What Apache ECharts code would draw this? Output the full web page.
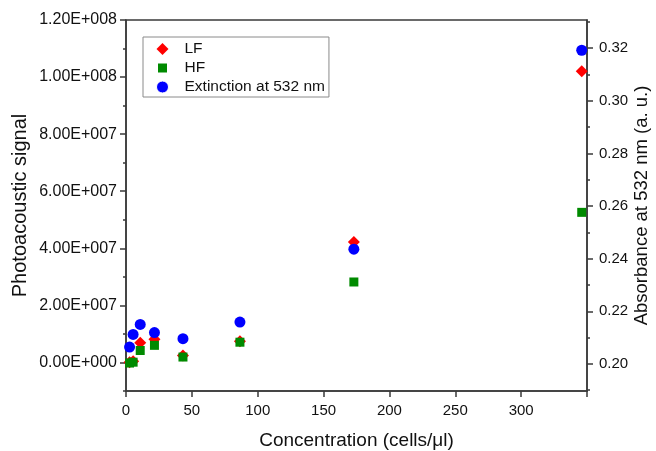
<!DOCTYPE html>
<html>
<head>
<meta charset="utf-8">
<script src="https://cdn.jsdelivr.net/npm/echarts@6/dist/echarts.min.js"></script>
<style>html,body{margin:0;padding:0;background:#fff;}#c{width:656px;height:451px;}</style>
</head>
<body>
<div id="c"></div>
<script>
// ---- data ----
var concentration = [2.7, 5.4, 10.8, 21.6, 43.25, 86.5, 173, 346];
var lfSignal = [0.1e6, 0.4e6, 6.9e6, 8.1e6, 2.4e6, 7.4e6, 4.22e7, 1.02e8];
var hfSignal = [-0.2e6, 0.1e6, 4.2e6, 6.0e6, 1.9e6, 7.1e6, 2.82e7, 5.26e7];
var extinction = [0.2064, 0.2112, 0.2150, 0.2119, 0.2096, 0.2159, 0.2436, 0.3192];
var seriesNames = ['LF', 'HF', 'Extinction at 532 nm'];

var leftMajorTicks = [0, 2e7, 4e7, 6e7, 8e7, 1e8, 1.2e8];
var leftTickLabels = ['0.00E+000', '2.00E+007', '4.00E+007', '6.00E+007', '8.00E+007', '1.00E+008', '1.20E+008'];
var leftMinorTicks = [-1e7, 1e7, 3e7, 5e7, 7e7, 9e7, 1.1e8];
var rightMajorTicks = [0.20, 0.22, 0.24, 0.26, 0.28, 0.30, 0.32];
var rightTickLabels = ['0.20', '0.22', '0.24', '0.26', '0.28', '0.30', '0.32'];
var rightMinorTicks = [0.19, 0.21, 0.23, 0.25, 0.27, 0.29, 0.31, 0.33];
var xTickLabels = ['0', '50', '100', '150', '200', '250', '300'];

var FONT = 'Liberation Sans, Arial, sans-serif';
var AX = '#3a3a3a';
var TXT = '#111';

function pairs(xs, ys) { return xs.map(function (x, i) { return [x, ys[i]]; }); }

var chart = echarts.init(document.getElementById('c'), null, { renderer: 'canvas' });
chart.setOption({
  animation: false,
  backgroundColor: '#fff',
  textStyle: { fontFamily: FONT },
  grid: { left: 126, right: 69, top: 20, bottom: 60, show: true, borderColor: AX, borderWidth: 1.5,
          containLabel: false, outerBoundsMode: 'none' },
  legend: {
    orient: 'vertical', left: 143, top: 37,
    padding: [4, 4, 2, 12], itemGap: 3, itemWidth: 12, itemHeight: 12,
    borderColor: '#8a8a8a', borderWidth: 1, borderRadius: 0,
    textStyle: { fontFamily: FONT, fontSize: 15.5, color: TXT, padding: [0, 0, 0, 11] },
    data: [
      { name: seriesNames[0], icon: 'diamond' },
      { name: seriesNames[1], icon: 'rect', itemStyle: { borderColor: '#ffffff', borderWidth: 3 } },
      { name: seriesNames[2], icon: 'circle', itemStyle: { borderColor: '#ffffff', borderWidth: 1 } }
    ]
  },
  xAxis: {
    type: 'value', min: 0, max: 350, interval: 50,
    name: 'Concentration (cells/\u03bcl)', nameLocation: 'middle', nameGap: 40, nameMoveOverlap: false,
    nameTextStyle: { fontFamily: FONT, fontSize: 19, color: TXT },
    axisLine: { show: true, onZero: false, lineStyle: { color: AX, width: 1.5 } },
    axisTick: { show: true, inside: false, length: 6, lineStyle: { color: AX, width: 1.5 } },
    axisLabel: { fontFamily: FONT, fontSize: 15, color: TXT, margin: 12,
      formatter: function (v) { var i = Math.round(v / 50); return i < xTickLabels.length ? xTickLabels[i] : ''; } },
    splitLine: { show: false }
  },
  yAxis: [
    {
      type: 'value', position: 'left', min: -1e7, max: 1.2e8,
      name: 'Photoacoustic signal', nameLocation: 'middle', nameGap: 96, nameRotate: 90, nameMoveOverlap: false,
      nameTextStyle: { fontFamily: FONT, fontSize: 20, color: TXT },
      axisLine: { show: true, onZero: false, lineStyle: { color: AX, width: 1.5 } },
      axisTick: { show: true, length: 6, customValues: leftMajorTicks, lineStyle: { color: AX, width: 1.5 } },
      axisLabel: { fontFamily: FONT, fontSize: 16, color: TXT, margin: 9, customValues: leftMajorTicks,
        formatter: function (v) { var i = leftMajorTicks.indexOf(v); return i >= 0 ? leftTickLabels[i] : ''; } },
      splitLine: { show: false }
    },
    {
      type: 'value', position: 'right', min: 0.1897, max: 0.3307,
      name: 'Absorbance at 532 nm (a. u.)', nameLocation: 'middle', nameGap: 45, nameRotate: 90, nameMoveOverlap: false,
      nameTextStyle: { fontFamily: FONT, fontSize: 18.5, color: TXT },
      axisLine: { show: true, onZero: false, lineStyle: { color: AX, width: 1.5 } },
      axisTick: { show: true, length: 6, customValues: rightMajorTicks, lineStyle: { color: AX, width: 1.5 } },
      axisLabel: { fontFamily: FONT, fontSize: 15, color: TXT, margin: 12, customValues: rightMajorTicks,
        formatter: function (v) { var i = rightMajorTicks.findIndex(function (t) { return Math.abs(t - v) < 1e-9; }); return i >= 0 ? rightTickLabels[i] : ''; } },
      splitLine: { show: false }
    },
    {
      type: 'value', position: 'left', min: -1e7, max: 1.2e8,
      axisLine: { show: false },
      axisTick: { show: true, length: 3, customValues: leftMinorTicks, lineStyle: { color: AX, width: 1.5 } },
      axisLabel: { show: false },
      splitLine: { show: false }
    },
    {
      type: 'value', position: 'right', min: 0.1897, max: 0.3307,
      axisLine: { show: false },
      axisTick: { show: true, length: 3, customValues: rightMinorTicks, lineStyle: { color: AX, width: 1.5 } },
      axisLabel: { show: false },
      splitLine: { show: false }
    }
  ],
  series: [
    { name: seriesNames[0], type: 'scatter', yAxisIndex: 0, symbol: 'diamond', symbolSize: 12,
      itemStyle: { color: '#ff0000', opacity: 1 }, data: pairs(concentration, lfSignal) },
    { name: seriesNames[1], type: 'scatter', yAxisIndex: 0, symbol: 'rect', symbolSize: 9,
      itemStyle: { color: '#008a00', opacity: 1 }, data: pairs(concentration, hfSignal) },
    { name: seriesNames[2], type: 'scatter', yAxisIndex: 1, symbol: 'circle', symbolSize: 11,
      itemStyle: { color: '#0000ff', opacity: 1 }, data: pairs(concentration, extinction) }
  ]
});
</script>
</body>
</html>
